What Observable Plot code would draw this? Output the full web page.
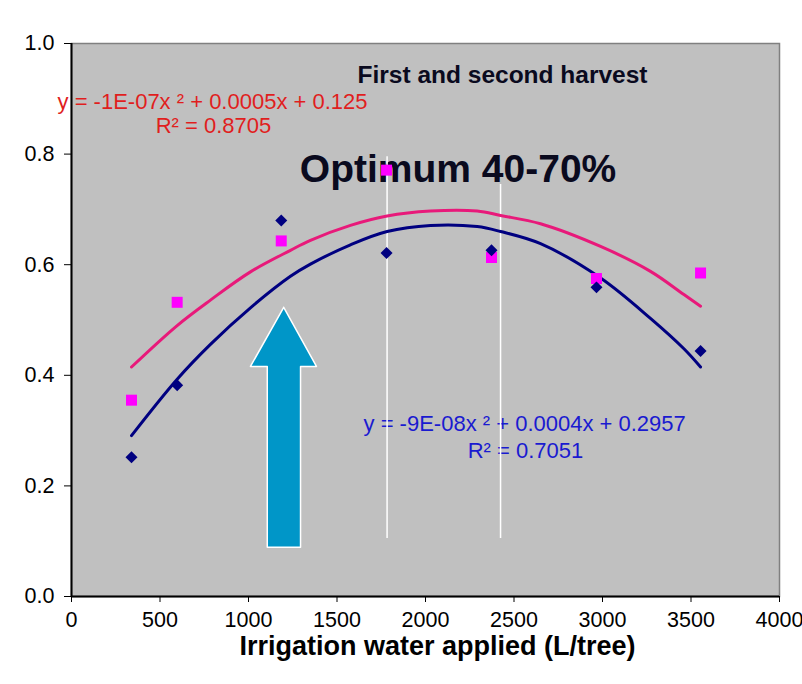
<!DOCTYPE html>
<html><head><meta charset="utf-8">
<script src="https://cdn.jsdelivr.net/npm/d3@7"></script>
<script src="https://cdn.jsdelivr.net/npm/@observablehq/plot@0.6"></script>
<style>body{margin:0;background:#fff;} svg{font-family:"Liberation Sans",Arial,sans-serif;}</style>
</head><body><div id="chart"></div>
<script>
// Measured points
const waterApplied = [339, 597, 1185, 1780, 2373, 2966, 3554];
const harvestNavy = [0.252, 0.382, 0.680, 0.621, 0.626, 0.559, 0.444];
const harvestPink = [0.355, 0.532, 0.643, 0.771, 0.613, 0.575, 0.585];
// Trend lines
const trendX    = [339, 597, 785, 1011, 1237, 1350, 1576, 1783, 2028, 2292, 2424, 2650, 2989, 3271, 3460, 3554];
const trendPink = [0.415, 0.490, 0.536, 0.587, 0.626, 0.644, 0.671, 0.688, 0.697, 0.697, 0.689, 0.674, 0.633, 0.588, 0.546, 0.525];
const trendNavy = [0.291, 0.393, 0.456, 0.522, 0.579, 0.601, 0.636, 0.660, 0.671, 0.669, 0.660, 0.638, 0.576, 0.503, 0.448, 0.415];
// Ticks
const xTicks = [0, 500, 1000, 1500, 2000, 2500, 3000, 3500, 4000];
const yTicks = [0, 0.2, 0.4, 0.6, 0.8, 1.0];
// Optimum range markers
const optimumX = [1783, 2424];
const optimumTop = [0.795, 0.745];
const optimumBottom = [0.105, 0.105];
// Arrow outline
const arrowX = [1199, 1384, 1294, 1294, 1106, 1106, 1011, 1199];
const arrowY = [0.523, 0.416, 0.416, 0.089, 0.089, 0.416, 0.416, 0.523];
// Annotation texts
const noteText = ["First and second harvest", "Optimum 40-70%"];
const noteX = [2435, 2184];
const noteY = [0.943, 0.773];
const pinkEqText = ["y = -1E-07x ² + 0.0005x + 0.125", "R² = 0.8705"];
const pinkEqX = [-79, 802];
const pinkEqY = [0.895, 0.850];
const navyEqText = ["y = -9E-08x ² + 0.0004x + 0.2957", "R² = 0.7051"];
const navyEqX = [1650, 2565];
const navyEqY = [0.312, 0.264];
const xTitle = "Irrigation water applied (L/tree)";

const pts = waterApplied.map((x, i) => ({x, navy: harvestNavy[i], pink: harvestPink[i]}));
const trend = trendX.map((x, i) => ({x, pink: trendPink[i], navy: trendNavy[i]}));
const vlines = optimumX.map((x, i) => ({x, y1: optimumBottom[i], y2: optimumTop[i]}));
const arrow = arrowX.map((x, i) => ({x, y: arrowY[i]}));

const chart = Plot.plot({
  width: 802, height: 684,
  marginLeft: 71, marginRight: 23, marginTop: 43, marginBottom: 88,
  style: {fontFamily: "Liberation Sans, Arial, sans-serif", color: "black"},
  x: {domain: [0, 4000]},
  y: {domain: [0, 1]},
  marks: [
    Plot.frame({fill: "#c0c0c0", stroke: "#808080", strokeWidth: 1.5}),
    Plot.text([{t: noteText[0], x: noteX[0], y: noteY[0]}], {x: "x", y: "y", text: "t", fill: "#0a0a1e", fontWeight: "bold", fontSize: 24.5, textAnchor: "middle", lineAnchor: "middle"}),
    Plot.text([{t: noteText[1], x: noteX[1], y: noteY[1]}], {x: "x", y: "y", text: "t", fill: "#0a0a1e", fontWeight: "bold", fontSize: 39, textAnchor: "middle", lineAnchor: "middle"}),
    Plot.text([{t: pinkEqText[0], x: pinkEqX[0], y: pinkEqY[0]}], {x: "x", y: "y", text: "t", fill: "#e01e1e", fontSize: 22, textAnchor: "start", lineAnchor: "middle"}),
    Plot.text([{t: pinkEqText[1], x: pinkEqX[1], y: pinkEqY[1]}], {x: "x", y: "y", text: "t", fill: "#e01e1e", fontSize: 22, textAnchor: "middle", lineAnchor: "middle"}),
    Plot.text([{t: navyEqText[0], x: navyEqX[0], y: navyEqY[0]}], {x: "x", y: "y", text: "t", fill: "#1a1ad0", fontSize: 22, textAnchor: "start", lineAnchor: "middle"}),
    Plot.text([{t: navyEqText[1], x: navyEqX[1], y: navyEqY[1]}], {x: "x", y: "y", text: "t", fill: "#1a1ad0", fontSize: 22, textAnchor: "middle", lineAnchor: "middle"}),
    Plot.ruleX(vlines, {x: "x", y1: "y1", y2: "y2", stroke: "white", strokeWidth: 1.5}),
    Plot.line(trend, {x: "x", y: "pink", stroke: "#e8197a", strokeWidth: 3, curve: "catmull-rom"}),
    Plot.line(trend, {x: "x", y: "navy", stroke: "#000080", strokeWidth: 3, curve: "catmull-rom"}),
    Plot.dot(pts, {x: "x", y: "pink", symbol: "square", r: 6.2, fill: "#ff00ff", stroke: "none"}),
    Plot.dot(pts, {x: "x", y: "navy", symbol: "diamond2", r: 5.4, fill: "#000080", stroke: "none"}),
    Plot.line(arrow, {x: "x", y: "y", fill: "#0096c8", stroke: "white", strokeWidth: 1.5, curve: "linear"}),
    Plot.ruleX([0], {stroke: "black", strokeWidth: 2}),
    Plot.ruleY([0], {stroke: "black", strokeWidth: 2}),
    Plot.axisX({ticks: xTicks, tickFormat: d3.format("d"), tickSize: 6, tickPadding: 9, fontSize: 21.5, label: null, color: "black"}),
    Plot.axisY({ticks: yTicks, tickFormat: d3.format(".1f"), tickSize: 7, tickPadding: 10, fontSize: 21.5, label: null, color: "black"}),
    Plot.text([xTitle], {frameAnchor: "bottom", dy: 50, dx: 12, fontSize: 27, fontWeight: "bold", fill: "black", lineAnchor: "middle"})
  ]
});
document.getElementById("chart").appendChild(chart);
</script>
</body></html>
